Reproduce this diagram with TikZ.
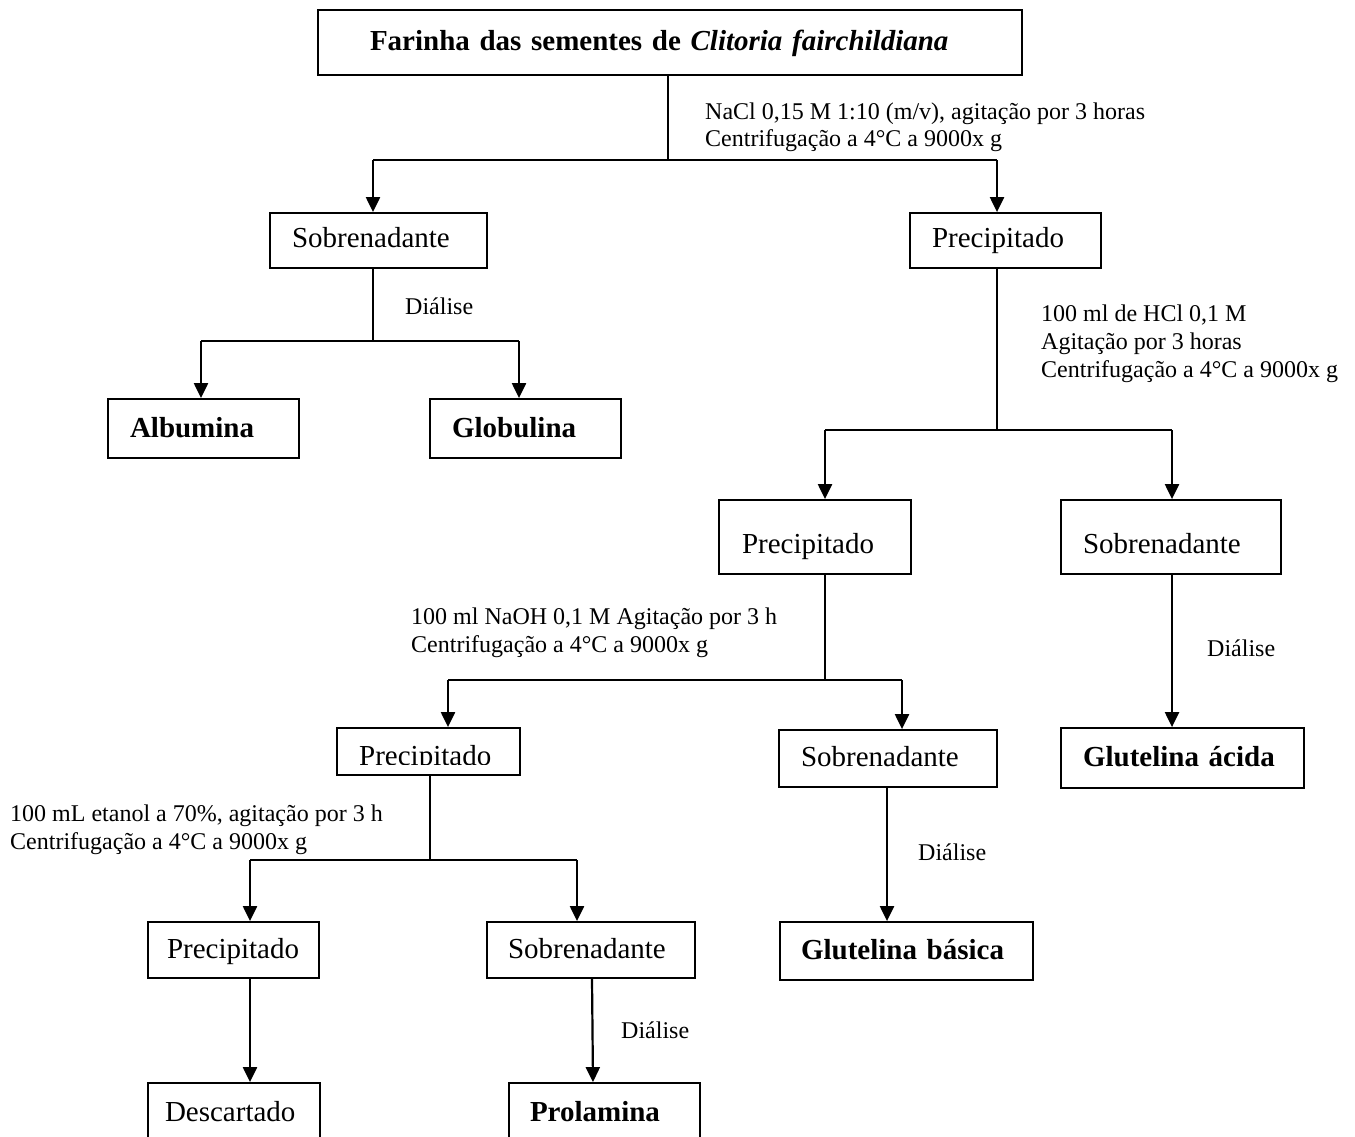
\documentclass[tikz,border=0pt]{standalone}
\usepackage{fontspec}
\setmainfont{Liberation Serif}
\usetikzlibrary{arrows.meta}
\newcommand\bigfnt{\fontsize{29}{34}\selectfont}
\newcommand\smallfnt{\fontsize{24}{28}\selectfont}
\begin{document}
\begin{tikzpicture}[x=1pt,y=-1pt,
  box/.style={draw, line width=1.8pt, inner ysep=0pt, align=left, font=\bigfnt, text depth=0pt},
  bbox/.style={box, font=\bigfnt\bfseries},
  conn/.style={line width=2.2pt},
  stem/.style={line width=1.5pt},
  arr/.style={line width=2.2pt, -{Triangle[width=14pt,length=15pt]}},
  lbl/.style={anchor=base west, inner sep=0pt, align=left, font=\smallfnt}]
\useasboundingbox (0,0) rectangle (1355,1137);
\fill[white] (0,0) rectangle (1355,1137);

% boxes
\node[bbox, minimum height=65pt, text height=17pt, inner xsep=52pt, text width=600pt] (title) at (670,42.5) {\mbox{Farinha das sementes de \textit{Clitoria fairchildiana}}};
\node[box, minimum height=55pt, text height=13pt, inner xsep=22pt, text width=173pt] (sob1) at (378.5,240.5) {\mbox{Sobrenadante}};
\node[box, minimum height=55pt, text height=13pt, inner xsep=22pt, text width=147pt] (prec1) at (1005.5,240.5) {\mbox{Precipitado}};
\node[bbox, minimum height=59pt, text height=17pt, inner xsep=22pt, text width=147pt] (alb) at (203.5,428.5) {\mbox{Albumina}};
\node[bbox, minimum height=59pt, text height=17pt, inner xsep=22pt, text width=147pt] (glob) at (525.5,428.5) {\mbox{Globulina}};
\node[box, minimum height=74pt, text height=32pt, inner xsep=23pt, text width=146pt] (prec2) at (815,537) {\mbox{Precipitado}};
\node[box, minimum height=74pt, text height=32pt, inner xsep=22pt, text width=176pt] (sob2) at (1171,537) {\mbox{Sobrenadante}};
\node[box, minimum height=47pt, minimum width=183pt] (prec3) at (428.5,751.5) {};
\begin{scope}
  \clip (337,728) rectangle (520,764);
  \node[anchor=base west, inner sep=0pt, font=\bigfnt] (prec3t) at (359,765) {Precipitado};
\end{scope}
\node[box, minimum height=57pt, text height=15pt, inner xsep=22pt, text width=174pt] (sob3) at (888,758.5) {\mbox{Sobrenadante}};
\node[bbox, minimum height=60pt, text height=16pt, inner xsep=22pt, text width=199pt] (gluta) at (1182.5,758) {\mbox{Glutelina ácida}};
\node[box, minimum height=56pt, text height=16pt, inner xsep=19pt, text width=133pt] (prec4) at (233.5,950) {\mbox{Precipitado}};
\node[box, minimum height=56pt, text height=16pt, inner xsep=21pt, text width=166pt] (sob4) at (591,950) {\mbox{Sobrenadante}};
\node[bbox, minimum height=58pt, text height=16pt, inner xsep=21pt, text width=211pt] (glutb) at (906.5,951) {\mbox{Glutelina básica}};
\node[box, minimum height=60pt, text height=16pt, inner xsep=17pt, text width=138pt] (desc) at (234,1113) {\mbox{Descartado}};
\node[bbox, minimum height=60pt, text height=16pt, inner xsep=21pt, text width=149pt] (prol) at (604.5,1113) {\mbox{Prolamina}};

% split 1
\coordinate (a1L) at (373,160);
\coordinate (a1R) at (997,160);
\draw[stem] (title.south -| 668,0) -- (668,160);
\draw[conn] (a1L) -- (a1R);
\draw[arr] (a1L) -- (a1L |- sob1.north);
\draw[arr] (a1R) -- (a1R |- prec1.north);

% split 2
\coordinate (b1L) at (201,341);
\coordinate (b1R) at (519,341);
\draw[stem] (a1L |- sob1.south) -- (a1L |- b1L);
\draw[conn] (b1L) -- (b1R);
\draw[arr] (b1L) -- (b1L |- alb.north);
\draw[arr] (b1R) -- (b1R |- glob.north);

% split 3
\coordinate (c1L) at (825,430);
\coordinate (c1R) at (1172,430);
\draw[stem] (a1R |- prec1.south) -- (a1R |- c1L);
\draw[conn] (c1L) -- (c1R);
\draw[arr] (c1L) -- (c1L |- prec2.north);
\draw[arr] (c1R) -- (c1R |- sob2.north);

% split 4
\coordinate (d1L) at (448,680);
\coordinate (d1R) at (902,680);
\draw[stem] (c1L |- prec2.south) -- (c1L |- d1L);
\draw[conn] (d1L) -- (d1R);
\draw[arr] (d1L) -- (d1L |- prec3.north);
\draw[arr] (d1R) -- (d1R |- sob3.north);

% sob2 -> glutelina acida
\draw[arr] (c1R |- sob2.south) -- (c1R |- gluta.north);

% split 5
\coordinate (e1L) at (250,860);
\coordinate (e1R) at (577,860);
\draw[stem] (prec3.south -| 430,0) -- (430,860);
\draw[stem] (e1L) -- (e1R);
\draw[arr] (e1L) -- (e1L |- prec4.north);
\draw[arr] (e1R) -- (e1R |- sob4.north);

% sob3 -> glutelina basica
\draw[arr] (sob3.south -| 887,0) -- (glutb.north -| 887,0);
% prec4 -> descartado
\draw[arr] (e1L |- prec4.south) -- (e1L |- desc.north);
% sob4 -> prolamina
\draw[arr] (sob4.south -| 592,0) -- (prol.north -| 593,0);

% labels
\node[lbl] (l1) at (705,147) {NaCl 0,15 M 1:10 (m/v), agitação por 3 horas\\Centrifugação a 4°C a 9000x g};
\node[lbl] (l2) at (405,314) {Diálise};
\node[lbl] (l3) at (1041,377) {100 ml de HCl 0,1 M\\Agitação por 3 horas\\Centrifugação a 4°C a 9000x g};
\node[lbl] (l4) at (411,652) {100 ml NaOH 0,1 M Agitação por 3 h\\Centrifugação a 4°C a 9000x g};
\node[lbl] (l5) at (1207,656) {Diálise};
\node[lbl] (l6) at (10,849) {100 mL etanol a 70\%, agitação por 3 h\\Centrifugação a 4°C a 9000x g};
\node[lbl] (l7) at (918,860) {Diálise};
\node[lbl] (l8) at (621,1038) {Diálise};
\end{tikzpicture}
\end{document}
